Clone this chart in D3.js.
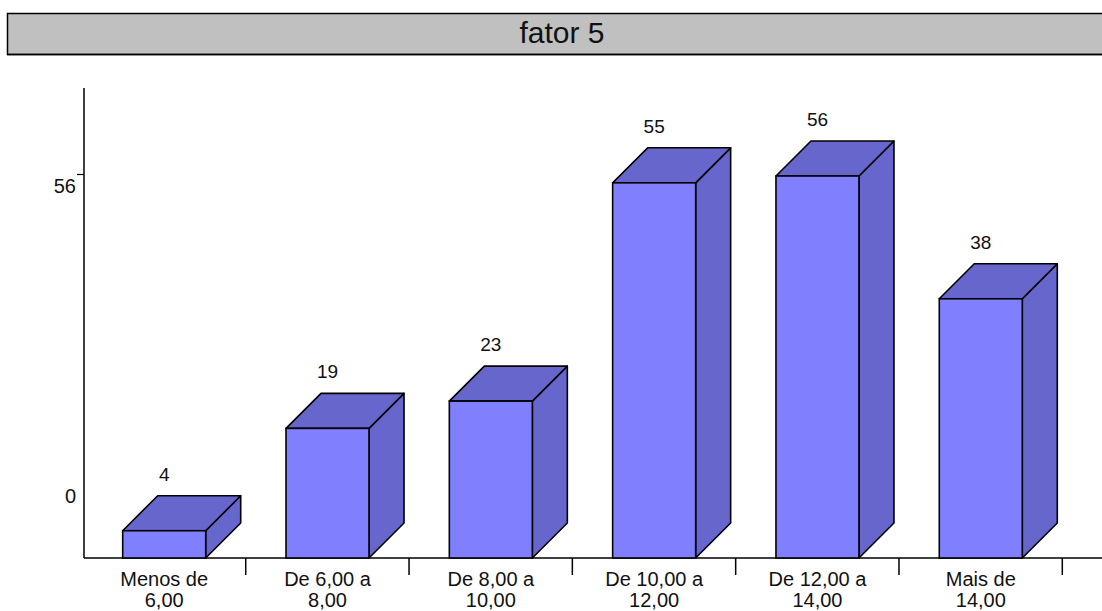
<!DOCTYPE html>
<html>
<head>
<meta charset="utf-8">
<script src="https://cdn.jsdelivr.net/npm/d3@7"></script>
<style>
  html, body { margin: 0; padding: 0; background: #fff; }
  svg { display: block; font-family: "Liberation Sans", Arial, Helvetica, sans-serif; }
</style>
</head>
<body>
<svg id="chart" width="1102" height="611"></svg>
<script>
// Faixas da variável e contagens
const categories = ["Menos de 6,00", "De 6,00 a 8,00", "De 8,00 a 10,00", "De 10,00 a 12,00", "De 12,00 a 14,00", "Mais de 14,00"];
const categoryLines = [["Menos de", "6,00"], ["De 6,00 a", "8,00"], ["De 8,00 a", "10,00"], ["De 10,00 a", "12,00"], ["De 12,00 a", "14,00"], ["Mais de", "14,00"]];
const counts = [4, 19, 23, 55, 56, 38];
const yTicks = [0, 56];
const title = "fator 5";

const svg = d3.select("#chart");
const W = 1102;

// Plot geometry
const baseY = 558, topY = 176;         // value 0 and value 56 on the front plane
const axisX = 84;
const depthX = 35, depthY = 35;         // 3D extrusion
const frontW = 83, barOffset = 40.3;

const x = d3.scaleBand().domain(categories).range([82.4, 1062.3]).padding(0);
const y = d3.scaleLinear().domain([0, 56]).range([baseY, topY]);

// Title bar
svg.append("rect")
  .attr("x", 7.5).attr("y", 13.5).attr("width", 1110).attr("height", 41)
  .attr("fill", "#c0c0c0").attr("stroke", "#000").attr("stroke-width", 1.5);
svg.append("line")
  .attr("x1", 7).attr("x2", W).attr("y1", 54.5).attr("y2", 54.5)
  .attr("stroke", "#000").attr("stroke-width", 1.5);
svg.append("text")
  .attr("x", 562).attr("y", 43)
  .attr("text-anchor", "middle").attr("font-size", 30).attr("fill", "#111")
  .text(title);

// Y axis
const yAxis = svg.append("g")
  .attr("transform", `translate(${axisX},0)`)
  .call(d3.axisLeft(y).tickValues(yTicks).tickSize(7).tickFormat(d3.format("d")));
yAxis.select(".domain").remove();
yAxis.selectAll(".tick line").attr("stroke", "#000").attr("stroke-width", 1.2)
  .attr("transform", "translate(0,-2)")
  .attr("opacity", d => d === 0 ? 0 : 1);
yAxis.selectAll(".tick text")
  .attr("font-size", 20).attr("fill", "#111").attr("font-family", null)
  .attr("x", -8)
  .attr("dy", d => d === 0 ? "-55.5" : "16");
svg.append("line")
  .attr("x1", axisX).attr("x2", axisX).attr("y1", 88).attr("y2", baseY)
  .attr("stroke", "#000").attr("stroke-width", 1.5);

// X axis baseline and category boundary ticks
svg.append("line")
  .attr("x1", axisX).attr("x2", W).attr("y1", baseY).attr("y2", baseY)
  .attr("stroke", "#000").attr("stroke-width", 1.5);
svg.selectAll("line.boundary")
  .data(categories)
  .join("line")
  .attr("class", "boundary")
  .attr("x1", d => x(d) + x.bandwidth()).attr("x2", d => x(d) + x.bandwidth())
  .attr("y1", baseY).attr("y2", baseY + 17)
  .attr("stroke", "#000").attr("stroke-width", 1.5);

// Category labels, centred on the front face of each bar
const xAxis = svg.append("g")
  .attr("transform", `translate(0,${baseY})`)
  .call(d3.axisBottom(x).tickSize(0).tickFormat(""));
xAxis.select(".domain").remove();
xAxis.selectAll(".tick")
  .attr("transform", d => `translate(${x(d) + barOffset + frontW / 2},0)`);
xAxis.selectAll(".tick").each(function (d, i) {
  const t = d3.select(this).append("text")
    .attr("text-anchor", "middle").attr("font-size", 20).attr("fill", "#111");
  categoryLines[i].forEach((line, j) => {
    t.append("tspan").attr("x", 0).attr("y", 28 + j * 21).text(line);
  });
});

// 3D bars
const data = categories.map((c, i) => ({ c, v: counts[i] }));
const bars = svg.append("g").selectAll("g.bar").data(data).join("g").attr("class", "bar");

bars.each(function (d) {
  const g = d3.select(this);
  const x0 = x(d.c) + barOffset, x1 = x0 + frontW;
  const yt = y(d.v), yb = y(0);
  const stroke = { stroke: "#000", "stroke-width": 1.6, "stroke-linejoin": "round" };
  // side face
  g.append("path")
    .attr("d", `M${x1},${yb} L${x1 + depthX},${yb - depthY} L${x1 + depthX},${yt - depthY} L${x1},${yt} Z`)
    .attr("fill", "#6666cc").attr("stroke", stroke.stroke).attr("stroke-width", stroke["stroke-width"]).attr("stroke-linejoin", "round");
  // top face
  g.append("path")
    .attr("d", `M${x0},${yt} L${x0 + depthX},${yt - depthY} L${x1 + depthX},${yt - depthY} L${x1},${yt} Z`)
    .attr("fill", "#6666cc").attr("stroke", stroke.stroke).attr("stroke-width", stroke["stroke-width"]).attr("stroke-linejoin", "round");
  // front face
  g.append("rect")
    .attr("x", x0).attr("y", yt).attr("width", frontW).attr("height", yb - yt)
    .attr("fill", "#8080ff").attr("stroke", "#000").attr("stroke-width", 1.6);
  // value label
  g.append("text")
    .attr("x", x0 + frontW / 2).attr("y", yt - depthY - 15)
    .attr("text-anchor", "middle").attr("font-size", 19).attr("fill", "#111")
    .text(d.v);
});
</script>
</body>
</html>
